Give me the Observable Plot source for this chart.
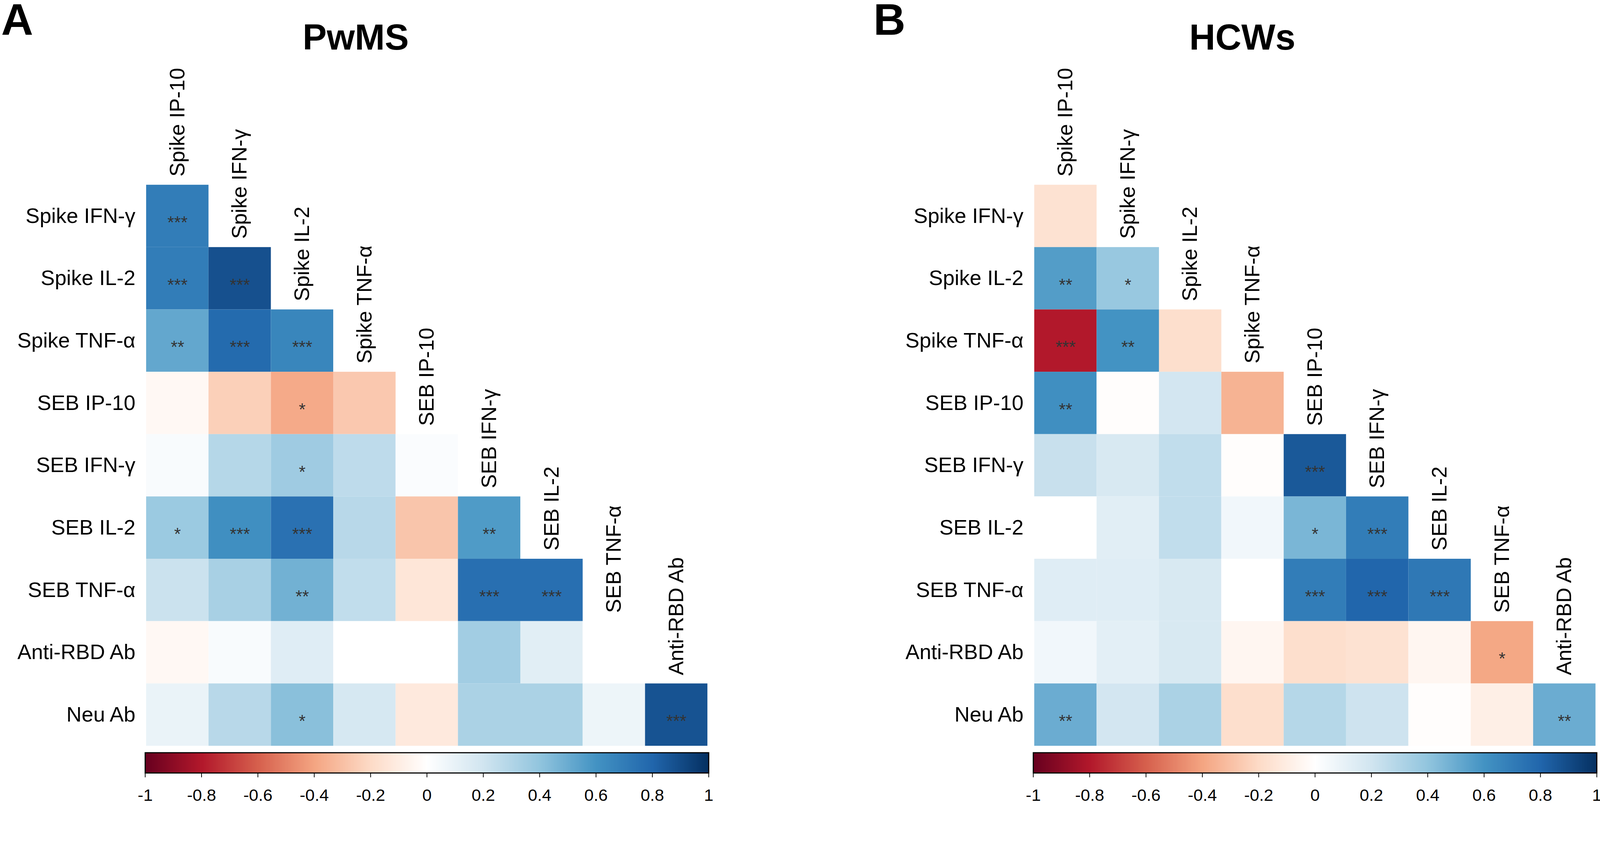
<!DOCTYPE html>
<html>
<head>
<meta charset="utf-8">
<script src="https://cdn.jsdelivr.net/npm/d3@7"></script>
<script src="https://cdn.jsdelivr.net/npm/@observablehq/plot@0.6"></script>
<style>
  html, body { margin: 0; padding: 0; background: #fff; overflow: hidden; }
  #page { position: relative; width: 4259px; height: 2159px; overflow: hidden; background: #fff;
          font-family: "Liberation Sans", Arial, Helvetica, sans-serif; color: #000;
          transform-origin: 0 0; }
  .abs { position: absolute; }
  .title { font-weight: bold; font-size: 96px; line-height: 96px; white-space: nowrap; transform: translateX(-50%); }
  .letter { font-weight: bold; font-size: 118px; line-height: 104px; }
</style>
</head>
<body>
<div id="page"></div>
<script>
// ---------- data ----------
const variables = ["Spike IP-10", "Spike IFN-γ", "Spike IL-2", "Spike TNF-α", "SEB IP-10",
                   "SEB IFN-γ", "SEB IL-2", "SEB TNF-α", "Anti-RBD Ab", "Neu Ab"];
const rowVars = variables.slice(1);
const colVars = variables.slice(0, 9);

// lower-triangle correlation values, row i (rowVars[i]) vs colVars[0..i]
const pwmsR = [
  [0.70],
  [0.70, 0.88],
  [0.52, 0.78, 0.66],
  [-0.04, -0.24, -0.38, -0.27],
  [0.03, 0.29, 0.36, 0.26, 0.02],
  [0.37, 0.62, 0.75, 0.28, -0.28, 0.57],
  [0.22, 0.33, 0.48, 0.25, -0.14, 0.76, 0.76],
  [-0.04, 0.03, 0.14, 0.00, 0.00, 0.35, 0.13, 0.00],
  [0.09, 0.28, 0.42, 0.18, -0.12, 0.32, 0.32, 0.08, 0.87]
];
const pwmsSig = [
  ["***"],
  ["***", "***"],
  ["**", "***", "***"],
  ["", "", "*", ""],
  ["", "", "*", "", ""],
  ["*", "***", "***", "", "", "**"],
  ["", "", "**", "", "", "***", "***"],
  ["", "", "", "", "", "", "", ""],
  ["", "", "*", "", "", "", "", "", "***"]
];
const hcwsR = [
  [-0.16],
  [0.56, 0.38],
  [-0.80, 0.60, -0.18],
  [0.62, -0.01, 0.19, -0.35],
  [0.23, 0.17, 0.25, -0.01, 0.85],
  [0.00, 0.13, 0.25, 0.06, 0.46, 0.70],
  [0.14, 0.14, 0.17, 0.00, 0.70, 0.80, 0.72],
  [0.06, 0.12, 0.17, -0.05, -0.18, -0.16, -0.05, -0.39],
  [0.50, 0.19, 0.32, -0.18, 0.29, 0.21, -0.01, -0.09, 0.50]
];
const hcwsSig = [
  [""],
  ["**", "*"],
  ["***", "**", ""],
  ["**", "", "", ""],
  ["", "", "", "", "***"],
  ["", "", "", "", "*", "***"],
  ["", "", "", "", "***", "***", "***"],
  ["", "", "", "", "", "", "", "*"],
  ["**", "", "", "", "", "", "", "", "**"]
];

const colorDomain = [-1, -0.8, -0.6, -0.4, -0.2, 0, 0.2, 0.4, 0.6, 0.8, 1];
const colorRange = ["#67001F", "#B2182B", "#D6604D", "#F4A582", "#FDDBC7", "#FFFFFF",
                    "#D1E5F0", "#92C5DE", "#4393C3", "#2166AC", "#053061"];
const legendTicks = [-1, -0.8, -0.6, -0.4, -0.2, 0, 0.2, 0.4, 0.6, 0.8, 1];

const panels = [
  {letter: "A", title: "PwMS", R: pwmsR, S: pwmsSig, left: 0, titleX: 947, letterX: 3},
  {letter: "B", title: "HCWs", R: hcwsR, S: hcwsSig, left: 2364, titleX: 3307, letterX: 2325}
];

// ---------- layout ----------
const PAGE_W = 4259, PAGE_H = 2159;
const W = 1895, ML = 386, MR = 9, MT = 489, GRID = 1500;
const CELL = GRID / 9;
const FONT = "'Liberation Sans', Arial, Helvetica, sans-serif";
const colorScale = {type: "linear", domain: colorDomain, range: colorRange, clamp: true};

function cellsOf(R, S) {
  const out = [];
  R.forEach((row, i) => row.forEach((r, j) => out.push({row: rowVars[i], col: colVars[j], r, sig: S[i][j]})));
  return out;
}

function heatmap(R, S) {
  const data = cellsOf(R, S);
  const colLabels = colVars.map((c, j) => ({col: c, row: rowVars[j]}));
  return Plot.plot({
    width: W, height: MT + GRID + 2,
    marginLeft: ML, marginRight: MR, marginTop: MT, marginBottom: 2,
    style: {fontFamily: FONT, fontSize: "56px", background: "transparent", overflow: "visible"},
    x: {domain: colVars, padding: 0, axis: null},
    y: {domain: rowVars, padding: 0},
    color: colorScale,
    marks: [
      Plot.cell(data, {x: "col", y: "row", fill: "r", inset: 0}),
      Plot.text(data.filter(d => d.sig), {x: "col", y: "row", text: "sig", fill: "#333",
        fontSize: 46, dy: 18}),
      Plot.text(colLabels, {x: "col", y: "row", text: "col", rotate: -90, textAnchor: "start",
        lineAnchor: "middle", fontSize: 56, fill: "#000", dy: -(CELL / 2 + 22)}),
      Plot.axisY({tickSize: 0, tickPadding: 26, fontSize: 56, label: null, fill: "#000"})
    ]
  });
}

function colorbar() {
  return Plot.plot({
    width: W, height: 169,
    marginLeft: ML, marginRight: MR, marginTop: 14, marginBottom: 101,
    style: {fontFamily: FONT, fontSize: "45px", background: "transparent", overflow: "visible"},
    x: {domain: [-1, 1], label: null},
    y: {domain: [0, 1], axis: null},
    color: colorScale,
    marks: [
      Plot.raster({fill: (x, y) => x, x1: -1, x2: 1, y1: 0, y2: 1, width: 750, height: 1, imageRendering: "auto"}),
      Plot.frame({stroke: "#000", strokeWidth: 3}),
      Plot.axisX({ticks: legendTicks, tickSize: 12, tickPadding: 30, strokeWidth: 2,
        tickFormat: d => String(d), fontSize: 45, label: null, fill: "#000"})
    ]
  });
}

const page = document.getElementById("page");
for (const p of panels) {
  const h = heatmap(p.R, p.S);
  h.classList.add("abs");
  h.style.left = p.left + "px"; h.style.top = "0px";
  page.appendChild(h);

  const cb = colorbar();
  cb.classList.add("abs");
  cb.style.left = p.left + "px"; cb.style.top = "1990px";
  page.appendChild(cb);

  const t = document.createElement("div");
  t.className = "abs title"; t.textContent = p.title;
  t.style.left = p.titleX + "px"; t.style.top = "51px";
  page.appendChild(t);

  const l = document.createElement("div");
  l.className = "abs letter"; l.textContent = p.letter;
  l.style.left = p.letterX + "px"; l.style.top = "0px";
  page.appendChild(l);
}

// fit the fixed-size page into whatever viewport the browser gives
function fit() {
  const vw = document.documentElement.clientWidth || window.innerWidth;
  const vh = document.documentElement.clientHeight || window.innerHeight;
  const s = Math.min(vw / PAGE_W, vh / PAGE_H);
  page.style.transform = s < 0.999 || s > 1.001 ? `scale(${s})` : "none";
}
fit();
window.addEventListener("resize", fit);
</script>
</body>
</html>
